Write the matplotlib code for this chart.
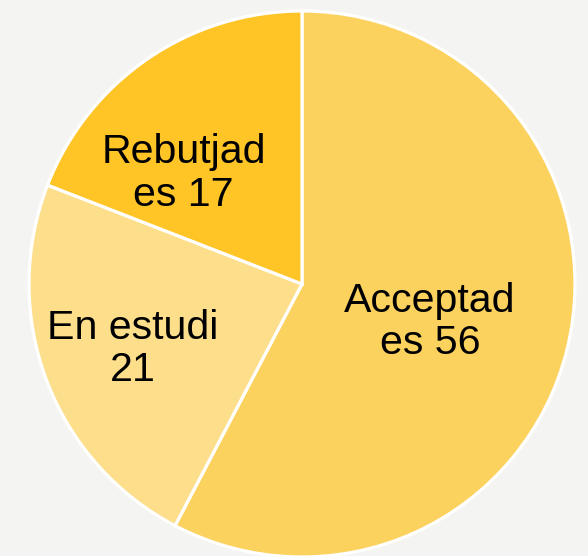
import matplotlib
matplotlib.use("Agg")
import matplotlib.pyplot as plt

# =========================
# Datos
# =========================
categories = ["Acceptades", "En estudi", "Rebutjades"]
values = [56, 21, 17]
# proporción de cada porción tal como se ve en el gráfico (%)
shares = [57.7, 23.2, 19.1]
label_texts = ["Acceptad\nes 56", "En estudi\n21", "Rebutjad\nes 17"]
colors = ["#FCD25F", "#FCDE8B", "#FFC425"]

# posición de las etiquetas (en radios del pastel)
LABEL_POS = [(0.468, -0.139), (-0.62, -0.237), (-0.434, 0.405)]

BG = "#F4F4F2"

plt.rcParams['font.family'] = ['Liberation Sans', 'DejaVu Sans']

fig = plt.figure(figsize=(5.88, 5.56), dpi=100, facecolor=BG)
ax = fig.add_axes([0, 0, 1, 1])
ax.set_facecolor(BG)

ax.pie(
    shares,
    colors=colors,
    startangle=90,
    counterclock=False,
    radius=1.0,
    wedgeprops=dict(edgecolor="white", linewidth=2.3),
)

for txt, (x, y) in zip(label_texts, LABEL_POS):
    ax.text(x, y, txt, ha="center", va="center", fontsize=29.6,
            linespacing=1.14, color="black")

# centro en (302, 284) px, radio 273 px
ax.set_xlim(-302 / 273, (588 - 302) / 273)
ax.set_ylim(-(556 - 284) / 273, 284 / 273)
ax.set_aspect("auto")
ax.axis("off")

fig.savefig("out.png", dpi=100, facecolor=BG)
